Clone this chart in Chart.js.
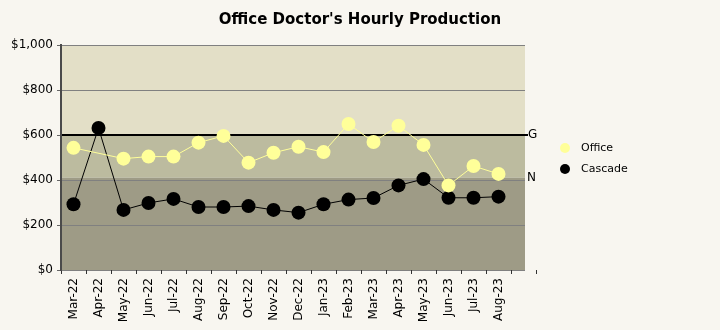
<!DOCTYPE html>
<html>
<head>
<meta charset="utf-8">
<script src="https://cdn.jsdelivr.net/npm/chart.js@4/dist/chart.umd.min.js"></script>
<style>
  html, body { margin: 0; padding: 0; background: #f8f6f0; }
</style>
</head>
<body>
<canvas id="prodChart" width="720" height="330"></canvas>
<script>
const chartTitle = "Office Doctor's Hourly Production";
const months = ['Mar-22', 'Apr-22', 'May-22', 'Jun-22', 'Jul-22', 'Aug-22', 'Sep-22', 'Oct-22', 'Nov-22',
  'Dec-22', 'Jan-23', 'Feb-23', 'Mar-23', 'Apr-23', 'May-23', 'Jun-23', 'Jul-23', 'Aug-23'];
const office = [543, null, 495, 504, 504, 566, 596, 477, 521, 548, 524, 649, 569, 641, 556, 376, 462, 427];
const cascade = [292, 631, 267, 298, 316, 280, 280, 284, 267, 255, 292, 313, 320, 376, 404, 321, 321, 326];
const yTicks = [0, 200, 400, 600, 800, 1000];
const goalLevel = 600;   // "G" line
const normLevel = 410;   // "N" band edge

const FONT = '"DejaVu Sans", Verdana, sans-serif';

const bandPlugin = {
  id: 'bands',
  beforeDraw(chart) {
    const { ctx, chartArea: a, scales: { y } } = chart;
    const right = a.right - 11;
    const yG = y.getPixelForValue(goalLevel);
    const yN = y.getPixelForValue(normLevel);
    ctx.save();
    ctx.fillStyle = '#e3dfc7';
    ctx.fillRect(a.left, a.top, right - a.left, yG - a.top);
    ctx.fillStyle = '#bcbb9f';
    ctx.fillRect(a.left, yG, right - a.left, yN - yG);
    ctx.fillStyle = '#9e9b86';
    ctx.fillRect(a.left, yN, right - a.left, a.bottom - yN);

    // horizontal grid
    ctx.strokeStyle = '#808080';
    ctx.lineWidth = 1;
    yTicks.forEach(v => {
      if (v === goalLevel) return;
      const p = Math.round(y.getPixelForValue(v)) + 0.5;
      ctx.beginPath();
      ctx.moveTo(a.left, p);
      ctx.lineTo(right, p);
      ctx.stroke();
    });

    // goal line + markers
    ctx.strokeStyle = '#000';
    ctx.lineWidth = 2;
    ctx.beginPath();
    ctx.moveTo(a.left, Math.round(yG));
    ctx.lineTo(right + 3, Math.round(yG));
    ctx.stroke();

    ctx.fillStyle = '#000';
    ctx.font = '12px ' + FONT;
    ctx.textBaseline = 'middle';
    ctx.textAlign = 'left';
    ctx.fillText('G', right + 3, yG);
    ctx.fillText('N', right + 2, yN);

    // title
    ctx.font = 'bold 15px ' + FONT;
    ctx.textAlign = 'center';
    ctx.fillText(chartTitle, 360, 20);
    ctx.restore();
  },
  afterDraw(chart) {
    const { ctx } = chart;
    ctx.save();
    ctx.font = '11px ' + FONT;
    ctx.textBaseline = 'middle';
    chart.data.datasets.forEach((ds, i) => {
      const cy = 148 + i * 21;
      ctx.fillStyle = ds.pointBackgroundColor;
      ctx.beginPath();
      ctx.arc(565, cy, 5, 0, Math.PI * 2);
      ctx.fill();
      ctx.fillStyle = '#000';
      ctx.fillText(ds.label, 581, cy);
    });
    ctx.restore();
  }
};

new Chart(document.getElementById('prodChart'), {
  type: 'line',
  data: {
    labels: [...months, ''],
    datasets: [
      {
        label: 'Office',
        data: office,
        borderColor: '#ffff99',
        borderWidth: 1,
        pointBackgroundColor: '#ffff99',
        pointBorderWidth: 0,
        pointRadius: 7,
        spanGaps: true
      },
      {
        label: 'Cascade',
        data: cascade,
        borderColor: '#000000',
        borderWidth: 1,
        pointBackgroundColor: '#000000',
        pointBorderWidth: 0,
        pointRadius: 7
      }
    ]
  },
  options: {
    responsive: false,
    animation: false,
    layout: { padding: { left: 0, right: 184, top: 45, bottom: 0 } },
    plugins: {
      legend: { display: false },
      tooltip: { enabled: false },
      title: { display: false }
    },
    scales: {
      x: {
        offset: true,
        grid: { offset: true, drawOnChartArea: false, drawTicks: true, tickLength: 4, color: '#333' },
        border: { display: false },
        ticks: {
          color: '#000',
          font: { family: FONT, size: 12 },
          minRotation: 90,
          maxRotation: 90,
          autoSkip: false,
          padding: 4
        },
        afterFit(scale) { scale.height = 60; }
      },
      y: {
        min: 0,
        max: 1000,
        ticks: {
          stepSize: 200,
          color: '#000',
          font: { family: FONT, size: 12 },
          padding: 4,
          callback: v => '$' + v.toLocaleString('en-US')
        },
        grid: { drawOnChartArea: false, drawTicks: true, tickLength: 4, color: '#666' },
        border: { display: true, color: '#4a4a4a', width: 2 },
        afterFit(scale) { scale.width = 61; }
      }
    }
  },
  plugins: [bandPlugin]
});
</script>
</body>
</html>
